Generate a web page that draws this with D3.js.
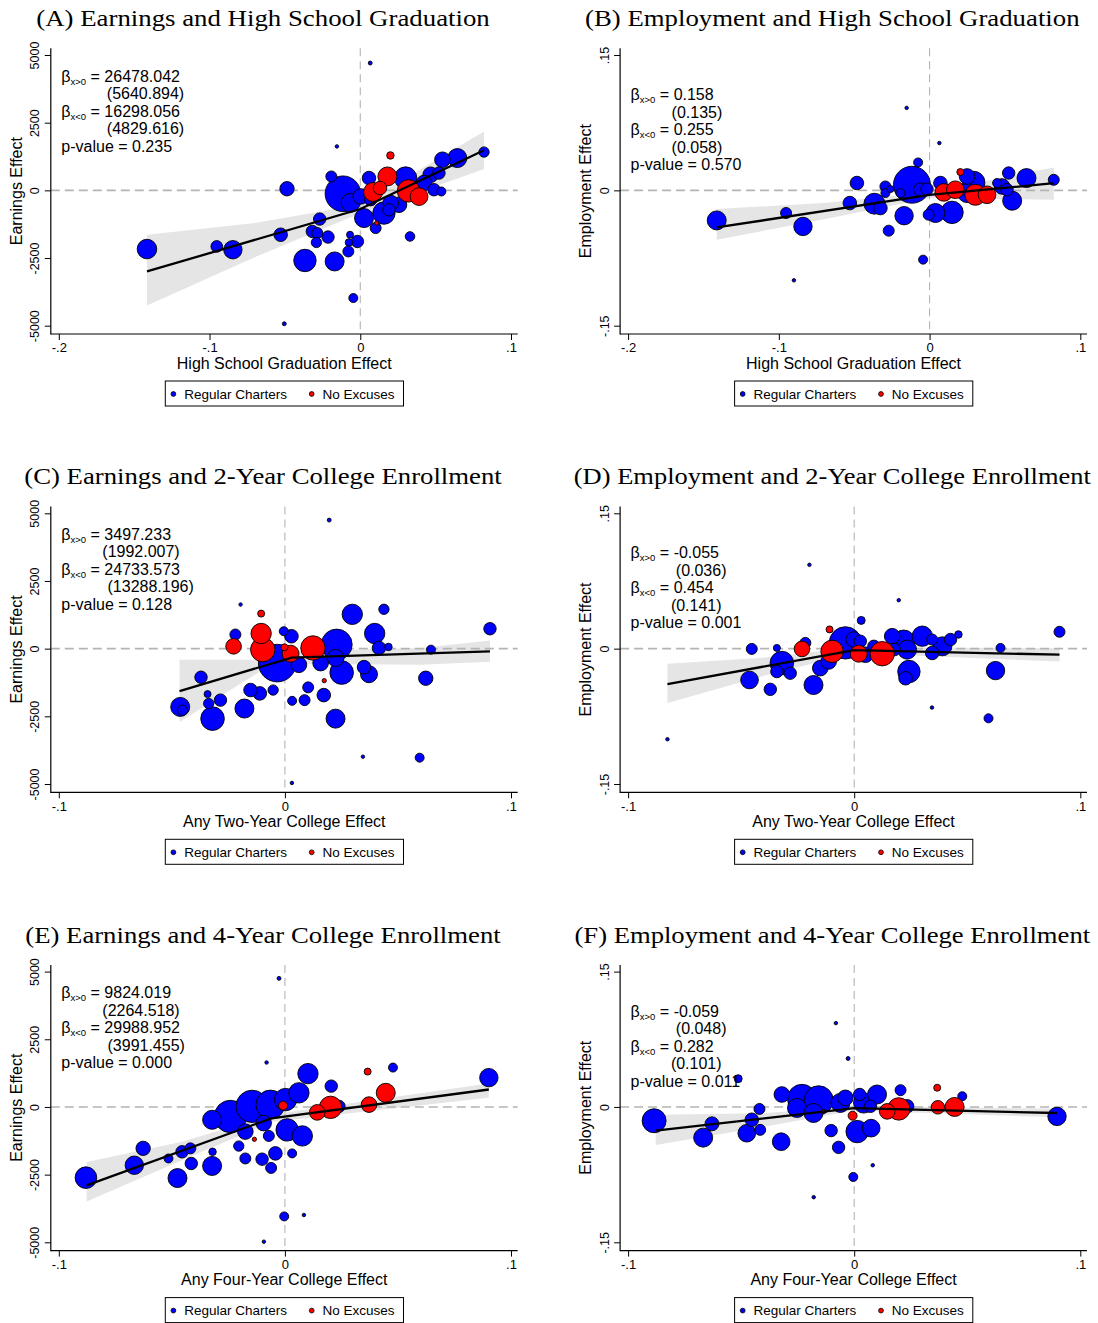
<!DOCTYPE html>
<html>
<head>
<meta charset="utf-8">
<script src="https://cdn.jsdelivr.net/npm/d3@7"></script>
<style>
body { margin: 0; background: #fff; }
</style>
</head>
<body>
<div id="chart"></div>
<script>
// ---- data: [x effect, y effect, weight] ----
var aBlue = [[-0.0155,1622,5],[-0.0486,59,59],[-0.0115,-126,335],[-0.0192,513,36],[-0.0064,-458,100],[0.0025,-1023,100],
  [0.0058,454,53],[0.0157,-839,137],[0.0102,-1393,36],[0.0257,-532,69],[0.0301,454,137],[0.0467,576,69],[0.0522,639,45],
  [0.0489,22,45],[0.0538,-41,25],[0.0545,1130,69],[0.0644,1193,100],[0.0821,1415,32],[0.0330,-1703,28],[-0.0269,-1060,45],
  [-0.0528,-1640,53],[-0.0318,-1518,45],[-0.0285,-1577,36],[-0.0291,-1925,32],[-0.0214,-1725,45],[-0.0367,-2590,137],
  [-0.0170,-2626,100],[-0.0068,-1640,16],[-0.0075,-1925,18],[-0.0019,-1888,45],[-0.0079,-2257,36],[-0.0046,-3978,25],
  [-0.1415,-2168,106],[-0.0952,-2072,40],[-0.0845,-2194,94],[0.0066,4703,6],[-0.0504,-4928,6],[0.0003,-225,69],
  [0.0202,-469,69],[0.0190,-717,45],[0.0069,-347,45],[0.0423,270,69]];
var aRed = [[0.0200,1289,18],[0.0180,513,100],[0.0085,-60,100],[0.0131,85,53],[0.0109,-1208,7],[0.0320,-20,137],[0.0390,-230,88]];
var aFit = [[-0.1415,-2996],[0,-690],[0.0821,1484]];
var aBand = [[-0.1415,-4252,-1640],[-0.07,-2470,-1210],[0,-850,-530],[0.0821,787,2176]];

var bBlue = [[0.0065,0.0524,5],[-0.0152,0.0914,5],[-0.0900,-0.0997,5],[-0.0043,-0.0768,25],[-0.0076,0.0309,25],
  [-0.0482,0.0081,53],[-0.1412,-0.0333,100],[-0.0952,-0.0251,36],[-0.0840,-0.0400,94],[-0.0529,-0.0141,53],
  [-0.0366,-0.0148,120],[-0.0326,-0.0196,53],[-0.0271,-0.0447,36],[-0.0169,-0.0281,94],[-0.0117,0.0062,360],
  [-0.0293,0.0043,36],[-0.0293,-0.0030,25],[-0.0061,0.0007,53],[-0.0017,0.0014,45],[0.0039,-0.0251,100],
  [0.0149,-0.0244,137],[0.0072,0.0081,53],[0.0293,0.0087,137],[0.0249,0.0154,69],[0.0525,0.0192,45],[0.0643,0.0136,100],
  [0.0824,0.0117,36],[0.0548,-0.0115,100],[0.0481,0.0043,69],[0.0448,0.0081,25],[0.0514,0.0007,45],[-0.0006,-0.0270,36],
  [0.0249,-0.0030,100],[-0.0260,0.0014,16],[-0.0193,-0.0030,25]];
var bRed = [[0.0094,-0.0023,87],[0.0171,0.0007,87],[0.0204,0.0203,16],[0.0304,-0.0049,121],[0.0381,-0.0049,87]];
var bFit = [[-0.1412,-0.0411],[0,-0.0051],[0.0824,0.0079]];
var bBand = [[-0.1412,-0.0547,-0.0207],[-0.07,-0.0320,-0.0140],[0,-0.0085,-0.0017],[0.0824,-0.0104,0.0254]];

var cBlue = [[0.0196,4750,6],[-0.0196,1630,5],[-0.0219,522,36],[-0.0034,-534,372],[-0.0005,645,25],[0.0029,459,53],
  [0.0062,-597,69],[0.0229,149,256],[0.0224,-347,81],[0.0251,-884,151],[0.0158,-534,69],[0.0298,1268,114],[0.0438,1455,32],
  [0.0397,560,114],[0.0416,26,53],[0.0458,63,18],[0.0350,-683,53],[0.0372,-944,81],[0.0103,-1430,36],[0.0172,-1716,53],
  [0.0087,-1902,36],[0.0032,-1928,25],[0.0224,-2585,100],[-0.0052,-1529,32],[-0.0111,-1653,53],[-0.0152,-1529,53],
  [-0.0179,-2212,100],[-0.0285,-1902,45],[-0.0342,-1679,16],[-0.0337,-2026,32],[-0.0320,-2585,151],[-0.0463,-2152,100],
  [-0.0453,-2276,32],[-0.0371,-1056,45],[0.0623,-1093,59],[0.0646,-37,25],[0.0907,735,45],[0.0596,-4028,25],
  [0.0345,-3991,5],[0.0031,-4961,5]];
var cRed = [[-0.0105,1294,16],[-0.0227,86,69],[-0.0105,560,114],[-0.0098,-37,161],[-0.0002,49,16],[0.0025,-187,81],
  [0.0124,26,161],[0.0174,-1182,7]];
var cFit = [[-0.0466,-1567],[0.003,-330],[0.0907,-100]];
var cBand = [[-0.0466,-2711,-410],[-0.012,-895,-410],[0.003,-560,-100],[0.060,-597,26],[0.0907,-485,298]];

var dBlue = [[-0.0198,0.0929,5],[0.0197,0.0537,5],[-0.0826,-0.1004,5],[0.0344,-0.0653,5],[0.0594,-0.0772,25],
  [0.0908,0.0187,36],[0.0647,0.0008,25],[0.0625,-0.0243,94],[0.0031,0.0313,20],[-0.0453,-0.0003,36],[-0.0342,0.0008,16],
  [-0.0320,-0.0160,151],[-0.0342,-0.0254,45],[-0.0283,-0.0272,45],[-0.0463,-0.0347,87],[-0.0371,-0.0451,45],
  [-0.0180,-0.0403,100],[-0.0150,-0.0216,69],[-0.0113,-0.0142,69],[-0.0216,0.0064,36],[-0.0039,0.0064,278],
  [-0.0002,0.0101,69],[0.0027,0.0082,45],[0.0050,-0.0067,69],[0.0087,0.0026,45],[0.0168,0.0138,69],[0.0219,0.0082,137],
  [0.0234,-0.0011,100],[0.0301,0.0138,114],[0.0242,-0.0254,137],[0.0227,-0.0328,53],[0.0345,-0.0048,53],
  [0.0390,0.0026,100],[0.0426,0.0101,45],[0.0461,0.0157,18],[0.0178,-0.0011,45],[0.0345,0.0101,36]];
var dRed = [[-0.0109,0.0213,16],[-0.0231,-0.0003,69],[-0.0098,-0.0030,137],[0.0020,-0.0056,81],[0.0124,-0.0056,161]];
var dFit = [[-0.0826,-0.0392],[0,-0.0017],[0.0908,-0.0067]];
var dBand = [[-0.0826,-0.0601,-0.0168],[-0.04,-0.0300,-0.0100],[0,-0.0050,0.0015],[0.0908,-0.0142,0.0005]];

var eBlue = [[-0.0026,4750,6],[-0.0081,1642,5],[0.0478,1455,25],[0.0102,1231,114],[0.0205,769,45],[0.0239,22,45],
  [0.0062,522,114],[-0.0241,-351,278],[-0.0145,22,278],[-0.0064,86,225],[0.0003,272,137],[-0.0322,-474,100],
  [-0.0175,-910,69],[-0.0094,-597,69],[0.0010,-847,137],[0.0077,-1071,114],[-0.0071,-1071,36],[-0.0204,-1444,32],
  [-0.0175,-1903,36],[-0.0101,-1929,45],[-0.0042,-1716,53],[-0.0061,-2253,36],[0.0032,-1716,25],[-0.0322,-2179,100],
  [-0.0320,-1657,18],[-0.0414,-2089,45],[-0.0418,-1530,36],[-0.0455,-1657,45],[-0.0515,-1903,25],[-0.0475,-2627,100],
  [-0.0627,-1530,59],[-0.0666,-2153,94],[-0.0880,-2612,128],[-0.0003,-4044,25],[0.0084,-3992,5],[-0.0093,-4977,5],
  [0.0902,1082,94]];
var eRed = [[0.0366,1306,16],[0.0446,522,100],[0.0372,86,69],[0.0202,-15,137],[0.0143,-201,69],[-0.0008,49,25],[-0.0135,-1194,7]];
var eFit = [[-0.0877,-2899],[-0.006,-420],[0.0902,645]];
var eBand = [[-0.0877,-3496,-2030],[-0.045,-1950,-1280],[-0.006,-560,-280],[0.0902,336,869]];

var fBlue = [[-0.0081,0.0929,5],[-0.0027,0.0537,6],[-0.0513,0.0313,20],[0.0082,-0.0646,5],[-0.0004,-0.0776,25],
  [-0.0179,-0.1000,5],[0.0897,-0.0105,94],[-0.0885,-0.0153,156],[-0.0668,-0.0340,100],[-0.0629,-0.0187,56],
  [-0.0475,-0.0291,87],[-0.0453,-0.0142,53],[-0.0419,-0.0022,36],[-0.0416,-0.0254,36],[-0.0323,-0.0385,87],
  [-0.0320,0.0138,69],[-0.0231,0.0090,225],[-0.0253,-0.0011,100],[-0.0157,0.0074,225],[-0.0180,-0.0067,100],
  [-0.0102,-0.0262,45],[-0.0069,-0.0448,45],[-0.0061,0.0045,100],[-0.0039,0.0101,69],[0.0013,-0.0273,137],
  [0.0075,-0.0235,87],[0.0042,0.0045,114],[0.0101,0.0138,100],[0.0072,0.0007,45],[0.0205,0.0186,36],[0.0234,0.0007,53],
  [0.0478,0.0119,25],[0.0024,0.0138,45]];
var fRed = [[-0.0135,-0.0049,6],[-0.0007,-0.0097,25],[0.0146,-0.0049,69],[0.0197,-0.0022,137],[0.0367,0.0213,16],
  [0.0370,-0.0004,53],[0.0444,0.0000,100]];
var fFit = [[-0.0878,-0.0262],[0,-0.0014],[0.0897,-0.0067]];
var fBand = [[-0.0878,-0.0422,-0.0086],[-0.04,-0.0220,-0.0070],[0,-0.0040,0.0010],[0.0897,-0.0115,-0.0020]];

// ---- text ----
var titles = ["(A) Earnings and High School Graduation", "(B) Employment and High School Graduation",
  "(C) Earnings and 2-Year College Enrollment", "(D) Employment and 2-Year College Enrollment",
  "(E) Earnings and 4-Year College Enrollment", "(F) Employment and 4-Year College Enrollment"];
var titleWidths = [453.5, 494.5, 477.4, 517, 475.3, 515.6];
var xTitles = ["High School Graduation Effect", "High School Graduation Effect", "Any Two-Year College Effect",
  "Any Two-Year College Effect", "Any Four-Year College Effect", "Any Four-Year College Effect"];
var stats = [["26478.042","(5640.894)","16298.056","(4829.616)","0.235"],
  ["0.158","(0.135)","0.255","(0.058)","0.570"],
  ["3497.233","(1992.007)","24733.573","(13288.196)","0.128"],
  ["-0.055","(0.036)","0.454","(0.141)","0.001"],
  ["9824.019","(2264.518)","29988.952","(3991.455)","0.000"],
  ["-0.059","(0.048)","0.282","(0.101)","0.011"]];
var parenX = [[106.8,106.8],[102.3,102.3],[102.3,107.5],[106.5,101.6],[102.3,107.5],[106.5,101.6]];

var earnTicks = [5000, 2500, 0, -2500, -5000];
var earnLabels = ["5000", "2500", "0", "-2500", "-5000"];
var empTicks = [0.15, 0, -0.15];
var empLabels = [".15", "0", "-.15"];
var hsTicks = [-0.2, -0.1, 0, 0.1];
var hsLabels = ["-.2", "-.1", "0", ".1"];
var colTicks = [-0.1, 0, 0.1];
var colLabels = ["-.1", "0", ".1"];
var legendNames = ["Regular Charters", "No Excuses"];

var blues = [aBlue, bBlue, cBlue, dBlue, eBlue, fBlue];
var reds = [aRed, bRed, cRed, dRed, eRed, fRed];
var fits = [aFit, bFit, cFit, dFit, eFit, fFit];
var bands = [aBand, bBand, cBand, dBand, eBand, fBand];

// ---- layout ----
var W = 1098, H = 1323;
var colX = [0, 569.3], rowY = [0, 458.3, 916.6];
var plotL = 50.8, plotR = 517.7, plotT = 48.3, plotB = 334;
var font = "'Liberation Sans', Arial, sans-serif";

var svg = d3.select("#chart").append("svg")
  .attr("width", W).attr("height", H)
  .style("background", "#fff");

var rScale = d3.scaleSqrt().domain([0, 400]).range([0, 20]);

for (var i = 0; i < 6; i++) {
  drawPanel(i);
}

function drawPanel(i) {
  var col = i % 2, row = Math.floor(i / 2);
  var earn = col === 0;
  var g = svg.append("g").attr("transform", "translate(" + colX[col] + "," + rowY[row] + ")");

  var x = d3.scaleLinear().domain(row === 0 ? [-0.2, 0.1] : [-0.1, 0.1]).range([58.8, 511]);
  var y = d3.scaleLinear().domain(earn ? [-5000, 5000] : [-0.15, 0.15]).range([325.7, 55]);

  // title
  g.append("text")
    .attr("x", 263).attr("y", 26)
    .attr("text-anchor", "middle")
    .attr("font-family", "'Liberation Serif', 'DejaVu Serif', serif")
    .attr("font-size", 24)
    .attr("textLength", titleWidths[i])
    .attr("lengthAdjust", "spacingAndGlyphs")
    .text(titles[i]);

  // confidence band
  var area = d3.area()
    .x(function(d) { return x(d[0]); })
    .y0(function(d) { return y(d[1]); })
    .y1(function(d) { return y(d[2]); });
  g.append("path").datum(bands[i])
    .attr("d", area)
    .attr("fill", "#e5e5e5");

  // reference lines at zero
  g.append("line")
    .attr("x1", plotL).attr("x2", plotR)
    .attr("y1", y(0)).attr("y2", y(0))
    .attr("stroke", "#b4b4b4").attr("stroke-width", 1.6)
    .attr("stroke-dasharray", "9,5");
  g.append("line")
    .attr("x1", x(0)).attr("x2", x(0))
    .attr("y1", plotT).attr("y2", plotB)
    .attr("stroke", "#b4b4b4").attr("stroke-width", 1.1)
    .attr("stroke-dasharray", "8,5");

  // points
  var pts = blues[i].map(function(d) { return {p: d, c: "#0000ff"}; });
  pts.sort(function(a, b) { return b.p[2] - a.p[2]; });
  var rpts = reds[i].map(function(d) { return {p: d, c: "#ff0000"}; });
  rpts.sort(function(a, b) { return b.p[2] - a.p[2]; });
  g.append("g").selectAll("circle")
    .data(pts.concat(rpts))
    .enter().append("circle")
    .attr("cx", function(d) { return x(d.p[0]); })
    .attr("cy", function(d) { return y(d.p[1]); })
    .attr("r", function(d) { return Math.max(1.6, rScale(d.p[2]) - 0.5); })
    .attr("fill", function(d) { return d.c; })
    .attr("stroke", "#000")
    .attr("stroke-width", 0.9);

  // piecewise fit
  var line = d3.line().x(function(d) { return x(d[0]); }).y(function(d) { return y(d[1]); });
  g.append("path").datum(fits[i])
    .attr("d", line)
    .attr("fill", "none")
    .attr("stroke", "#000")
    .attr("stroke-width", 2.3);

  // axes
  var yAxis = d3.axisLeft(y)
    .tickValues(earn ? earnTicks : empTicks)
    .tickFormat(function(d, k) { return (earn ? earnLabels : empLabels)[k]; })
    .tickSize(6).tickPadding(0);
  var ya = g.append("g").attr("transform", "translate(" + plotL + ",0)").call(yAxis);
  ya.select(".domain").remove();
  ya.selectAll(".tick line").attr("stroke", "#000");
  ya.selectAll(".tick text")
    .attr("x", 0).attr("y", -11.5).attr("dy", 0)
    .attr("transform", "rotate(-90)")
    .attr("text-anchor", "middle")
    .attr("font-family", font).attr("font-size", 12.5).attr("fill", "#000");

  var xAxis = d3.axisBottom(x)
    .tickValues(row === 0 ? hsTicks : colTicks)
    .tickFormat(function(d, k) { return (row === 0 ? hsLabels : colLabels)[k]; })
    .tickSize(6).tickPadding(3);
  var xa = g.append("g").attr("transform", "translate(0," + plotB + ")").call(xAxis);
  xa.select(".domain").remove();
  xa.selectAll(".tick line").attr("stroke", "#000");
  xa.selectAll(".tick text")
    .attr("font-family", font).attr("font-size", 13).attr("fill", "#000");

  g.append("line").attr("x1", plotL).attr("x2", plotL).attr("y1", plotT).attr("y2", plotB + 0.6)
    .attr("stroke", "#000").attr("stroke-width", 1.2);
  g.append("line").attr("x1", plotL).attr("x2", plotR).attr("y1", plotB).attr("y2", plotB)
    .attr("stroke", "#000").attr("stroke-width", 1.2);

  // axis titles
  g.append("text")
    .attr("transform", "translate(22," + ((plotT + plotB) / 2) + ") rotate(-90)")
    .attr("text-anchor", "middle")
    .attr("font-family", font).attr("font-size", 16)
    .text(earn ? "Earnings Effect" : "Employment Effect");
  g.append("text")
    .attr("x", (plotL + plotR) / 2).attr("y", 368.5)
    .attr("text-anchor", "middle")
    .attr("font-family", font).attr("font-size", 16)
    .text(xTitles[i]);

  // regression statistics
  var s = stats[i];
  var base = earn ? 81.7 : 100.2, step = 17.5;
  var ann = g.append("g").attr("font-family", font).attr("font-size", 16).attr("fill", "#000");
  [0, 2].forEach(function(k) {
    var t = ann.append("text").attr("x", 61.3).attr("y", base + step * k);
    t.append("tspan").text("\u03b2");
    t.append("tspan").attr("font-size", 9.5).attr("dy", 3).text(k === 0 ? "x>0" : "x<0");
    t.append("tspan").attr("dy", -3).text(" = " + s[k]);
    ann.append("text").attr("x", parenX[i][k / 2]).attr("y", base + step * (k + 1)).text(s[k + 1]);
  });
  ann.append("text").attr("x", 61.3).attr("y", base + step * 4).text("p-value = " + s[4]);

  // legend
  var lg = g.append("g").attr("font-family", font).attr("font-size", 13.5);
  lg.append("rect")
    .attr("x", 165.3).attr("y", 381).attr("width", 238.2).attr("height", 25)
    .attr("fill", "#fff").attr("stroke", "#000").attr("stroke-width", 1);
  var lx = [173.4, 311.7], lc = ["#0000ff", "#ff0000"];
  legendNames.forEach(function(n, k) {
    lg.append("circle").attr("cx", lx[k]).attr("cy", 394).attr("r", 2.4)
      .attr("fill", lc[k]).attr("stroke", "#000").attr("stroke-width", 0.8);
    lg.append("text").attr("x", lx[k] + 10.8).attr("y", 398.5).text(n);
  });
}
</script>
</body>
</html>
